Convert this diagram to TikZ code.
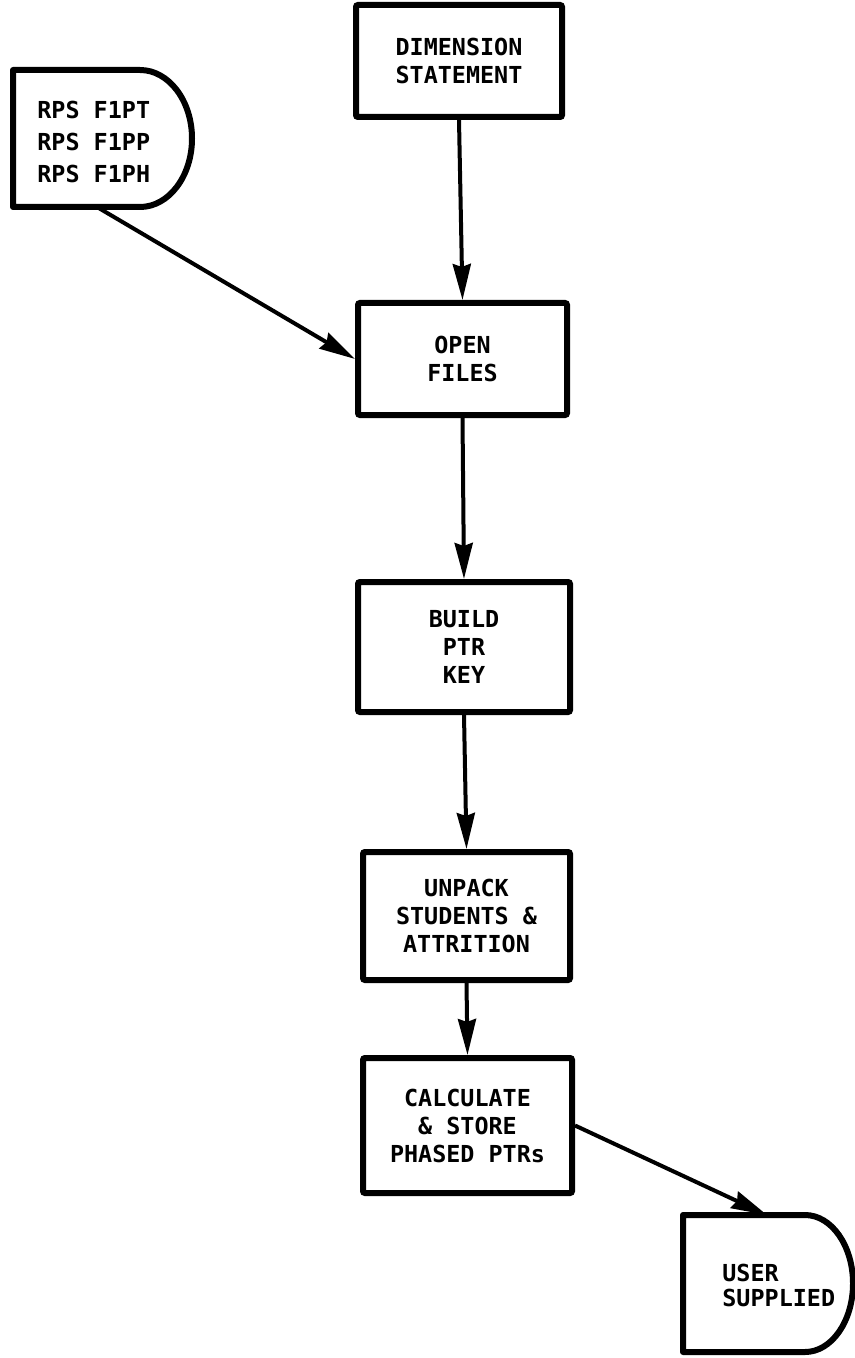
\documentclass[tikz,border=0pt]{standalone}
\usepackage{fontspec}
\setmonofont{DejaVu Sans Mono}
\usetikzlibrary{arrows.meta}
\newcommand{\flowfont}{\fontsize{11.7}{14}\selectfont\ttfamily\bfseries}
\tikzset{
  proc/.style={draw, line width=3pt, rounded corners=1pt, font=\flowfont, align=center, inner sep=0pt},
  store/.style={line width=3pt, line join=round},
  flow/.style={line width=2pt, -{Stealth[length=18pt,width=9pt,inset=1.5pt]}},
}
\begin{document}
\begin{tikzpicture}[x=0.5pt,y=-0.5pt]
    \useasboundingbox (0,0) rectangle (855,1358);

    % process boxes
    \node[proc, minimum width=103pt, minimum height=56pt] (dim) at (459,61) {DIMENSION\\STATEMENT};
    \node[proc, minimum width=104.5pt, minimum height=56pt] (open) at (462.5,359) {OPEN\\FILES};
    \node[proc, minimum width=106pt, minimum height=65pt] (build) at (464,647) {BUILD\\PTR\\KEY};
    \node[proc, minimum width=103.5pt, minimum height=64pt] (unpack) at (466.5,916) {UNPACK\\STUDENTS \&\\ATTRITION};
    \node[proc, minimum width=104.5pt, minimum height=67.5pt] (calc) at (467.5,1125.5) {CALCULATE\\\& STORE\\PHASED PTRs};

    % stored data
    \draw[store] (140,70) -- (13,70) -- (13,207) -- (140,207)
        arc[start angle=90, end angle=-90, x radius=52, y radius=68.5] -- cycle;
    \node[font=\fontsize{11.7}{16}\selectfont\ttfamily\bfseries, align=left, anchor=west, inner sep=0pt] (rps) at (37,142) {RPS F1PT\\RPS F1PP\\RPS F1PH};
    \coordinate (rps-out) at (97,207);

    \draw[store] (805,1215) -- (683,1215) -- (683,1352) -- (805,1352)
        arc[start angle=90, end angle=-90, x radius=48, y radius=68.5] -- cycle;
    \node[font=\fontsize{11.7}{12.5}\selectfont\ttfamily\bfseries, align=left, anchor=west, inner sep=0pt] (user) at (722,1285) {USER\\SUPPLIED};
    \coordinate (user-in) at (767,1215);

    % arrows
    \draw[flow] (dim.south) -- (open.north);
    \draw[flow] (rps-out) -- (open.west);
    \draw[flow] (open.south) -- (build.north);
    \draw[flow] (build.south) -- (unpack.north);
    \draw[flow] (unpack.south) -- (calc.north);
    \draw[flow] (calc.east) -- (user-in);
\end{tikzpicture}
\end{document}
